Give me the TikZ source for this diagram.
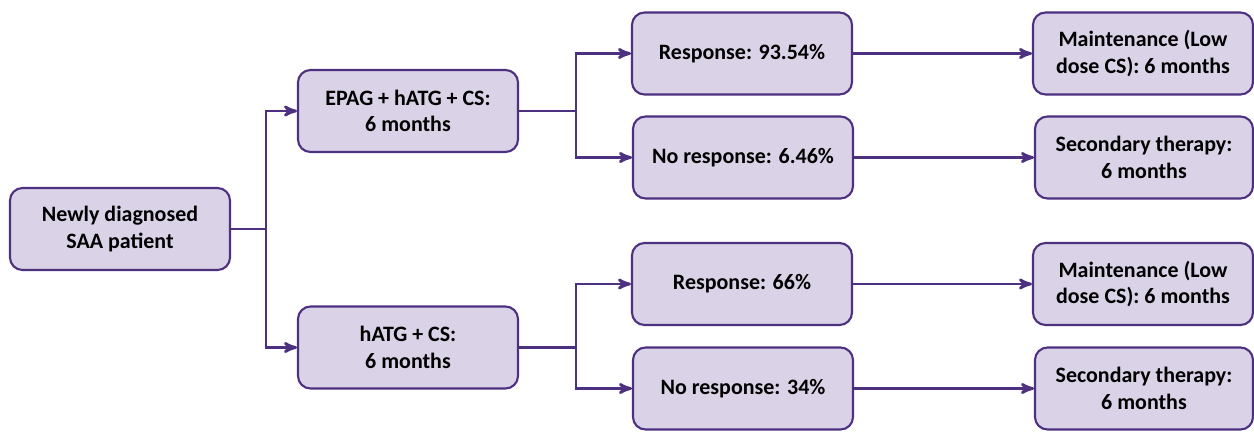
\documentclass[tikz,border=0pt]{standalone}
\usepackage{fontspec}
\setmainfont{Carlito}
\usetikzlibrary{arrows,calc,positioning}
\definecolor{lila}{RGB}{218,210,230}
\definecolor{mork}{RGB}{78,48,128}
\tikzset{
    >=stealth',
    boks/.style={
           rectangle, rounded corners=0.25cm,
           draw=mork, line width=1.2pt,
           fill=lila,
           minimum width=4.4cm,
           minimum height=1.64cm,
           inner sep=0pt,
           align=center,
           font=\fontsize{12.5}{15}\selectfont\bfseries},
    pil/.style={
           ->,
           draw=mork, line width=1.5pt}
}
\begin{document}
\begin{tikzpicture}
        \useasboundingbox (0,0) rectangle (25.08,-8.62);
        \node[boks] (ny) at (2.40,-4.58) {Newly diagnosed\\SAA patient};
        \node[boks] (epag) at (8.16,-2.22) {EPAG + hATG + CS:\\6 months};
        \node[boks] (hatg) at (8.16,-6.95) {hATG + CS:\\6 months};

        \node[boks] (r1) at (14.84,-1.07) {Response: 93.54\%};
        \node[boks] (n1) at (14.86,-3.15) {No response: 6.46\%};
        \node[boks] (r2) at (14.84,-5.68) {Response: 66\%};
        \node[boks] (n2) at (14.86,-7.77) {No response: 34\%};

        \node[boks] (m1) at (22.86,-1.07) {Maintenance (Low\\dose CS): 6 months};
        \node[boks, minimum width=4.36cm] (s1) at (22.88,-3.15) {Secondary therapy:\\6 months};
        \node[boks] (m2) at (22.86,-5.68) {Maintenance (Low\\dose CS): 6 months};
        \node[boks, minimum width=4.36cm] (s2) at (22.88,-7.77) {Secondary therapy:\\6 months};

        % branch points
        \coordinate (g0) at ($(ny.east)+(0.7,0)$);
        \coordinate (g1) at ($(epag.east)+(1.14,0)$);
        \coordinate (g2) at ($(hatg.east)+(1.14,0)$);

        \draw[pil] (ny.east) -- (g0) |- (epag.west);
        \draw[pil] (g0) |- (hatg.west);

        \draw[pil] (epag.east) -- (g1) |- (r1.west);
        \draw[pil] (g1) |- (n1.west);
        \draw[pil] (hatg.east) -- (g2) |- (r2.west);
        \draw[pil] (g2) |- (n2.west);

        \draw[pil] (r1) -- (m1);
        \draw[pil] (n1) -- (s1);
        \draw[pil] (r2) -- (m2);
        \draw[pil] (n2) -- (s2);
\end{tikzpicture}
\end{document}
